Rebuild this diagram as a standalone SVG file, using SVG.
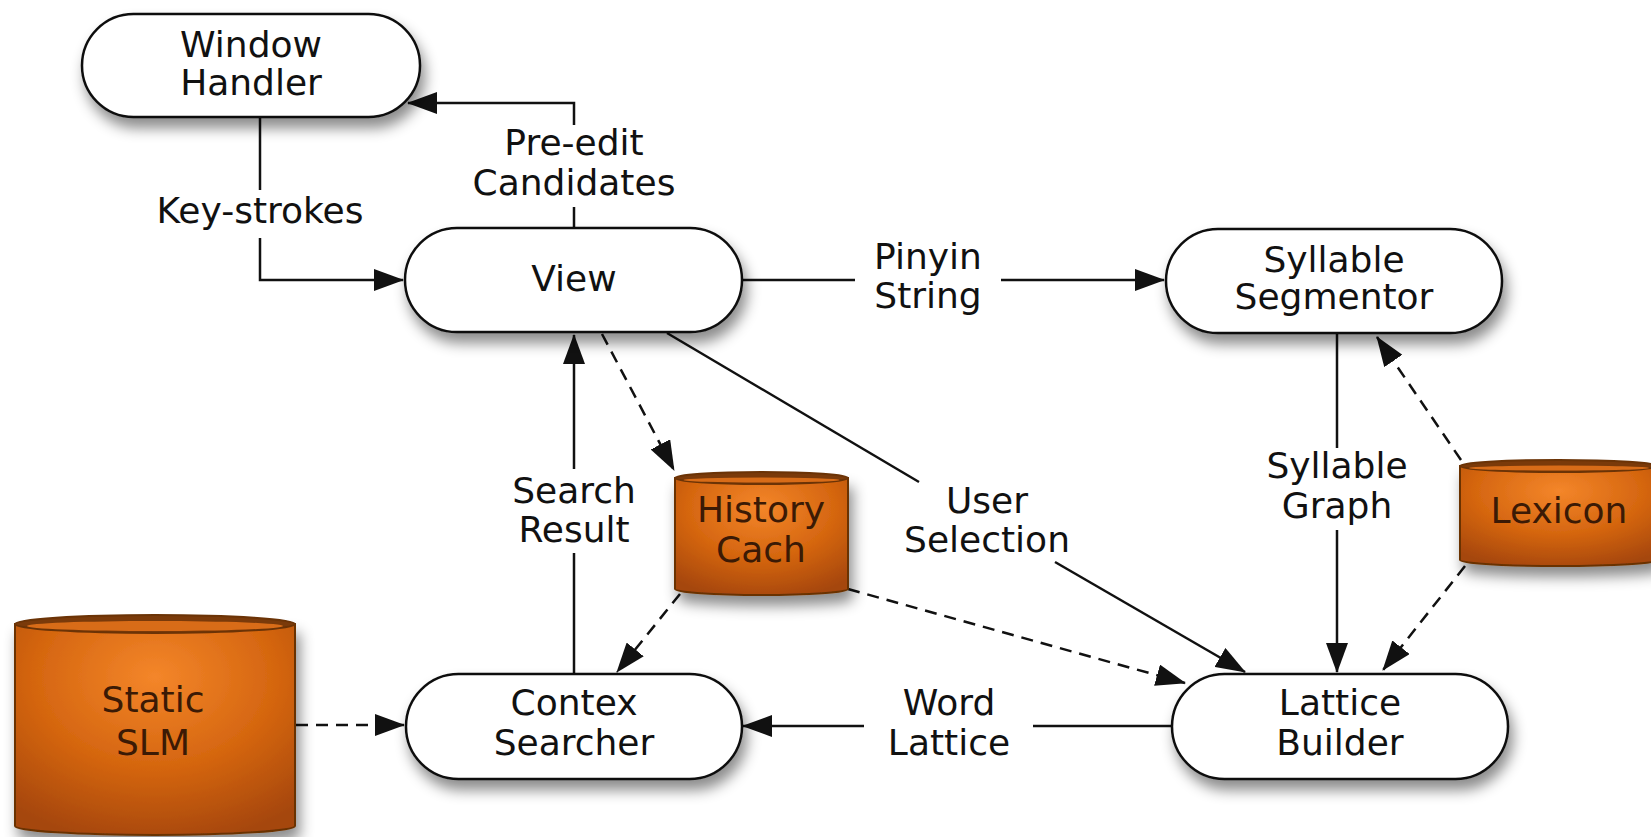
<svg xmlns="http://www.w3.org/2000/svg" width="1651" height="837" viewBox="0 0 1651 837">
  <style>
    .pill { fill: #ffffff; stroke: #111111; stroke-width: 2.5; }
    .lbl { font-family: "DejaVu Sans", "Liberation Sans", sans-serif; font-size: 36px; fill: #111111; text-anchor: middle; }
    .dbl { font-family: "DejaVu Sans", "Liberation Sans", sans-serif; font-size: 36px; fill: #3b1a05; text-anchor: middle; }
    .edge { fill: none; stroke: #111111; stroke-width: 2.5; }
    .dash { stroke-dasharray: 12 8; }
    .body { stroke: #6b3306; stroke-width: 2; }
    .rim { fill: #7a3a0a; stroke: #6b3306; stroke-width: 2; }
    .rimin { fill: #d86c18; }
  </style>
  <defs>
    <filter id="shadow" x="-20%" y="-30%" width="150%" height="180%">
      <feDropShadow dx="4" dy="10" stdDeviation="7" flood-color="#000000" flood-opacity="0.45"/>
    </filter>
    <radialGradient id="orange" cx="0.5" cy="0.25" r="0.8">
      <stop offset="0" stop-color="#f4862a"/>
      <stop offset="0.55" stop-color="#d4650f"/>
      <stop offset="1" stop-color="#a5460a"/>
    </radialGradient>
    <marker id="arrow" viewBox="0 0 30 22" refX="29" refY="11" markerWidth="30" markerHeight="22" markerUnits="userSpaceOnUse" orient="auto">
      <path d="M0,0 L30,11 L0,22 Z" fill="#111111"/>
    </marker>
  </defs>

  <rect width="1651" height="837" fill="#ffffff"/>

  <!-- connectors -->
  <g id="connectors">
    <!-- Key-strokes -->
    <path class="edge" d="M260,118 V190"/>
    <path class="edge" d="M260,238 V280 H403" marker-end="url(#arrow)"/>
    <text class="lbl" x="260" y="223">Key-strokes</text>
    <!-- Pre-edit Candidates -->
    <path class="edge" d="M574,228 V207"/>
    <path class="edge" d="M574,125 V103 H408" marker-end="url(#arrow)"/>
    <text class="lbl" x="574" y="155">Pre-edit</text>
    <text class="lbl" x="574" y="195">Candidates</text>
    <!-- Pinyin String -->
    <path class="edge" d="M742,280 H855"/>
    <path class="edge" d="M1001,280 H1164" marker-end="url(#arrow)"/>
    <text class="lbl" x="928" y="269">Pinyin</text>
    <text class="lbl" x="928" y="308">String</text>
    <!-- Syllable Graph -->
    <path class="edge" d="M1337,333 V448"/>
    <path class="edge" d="M1337,530 V672" marker-end="url(#arrow)"/>
    <text class="lbl" x="1337" y="478">Syllable</text>
    <text class="lbl" x="1337" y="518">Graph</text>
    <!-- Lexicon links -->
    <path class="edge dash" d="M1461,460 L1377,337" marker-end="url(#arrow)"/>
    <path class="edge dash" d="M1465,566 L1383,670" marker-end="url(#arrow)"/>
    <!-- History cache links -->
    <path class="edge dash" d="M848,589 L1185,683" marker-end="url(#arrow)"/>
    <path class="edge dash" d="M602,334 L674,470" marker-end="url(#arrow)"/>
    <path class="edge dash" d="M680,594 L617,672" marker-end="url(#arrow)"/>
    <!-- User Selection -->
    <path class="edge" d="M667,333 L919,482"/>
    <path class="edge" d="M1055,562 L1245,672" marker-end="url(#arrow)"/>
    <text class="lbl" x="987" y="513">User</text>
    <text class="lbl" x="987" y="552">Selection</text>
    <!-- Search Result -->
    <path class="edge" d="M574,674 V553"/>
    <path class="edge" d="M574,469 V335" marker-end="url(#arrow)"/>
    <text class="lbl" x="574" y="503">Search</text>
    <text class="lbl" x="574" y="542">Result</text>
    <!-- Static SLM -->
    <path class="edge dash" d="M296,725 H404" marker-end="url(#arrow)"/>
    <!-- Word Lattice -->
    <path class="edge" d="M1172,726 H1033"/>
    <path class="edge" d="M864,726 H743" marker-end="url(#arrow)"/>
    <text class="lbl" x="949" y="715">Word</text>
    <text class="lbl" x="949" y="755">Lattice</text>
  </g>

  <!-- process nodes -->
  <g id="window-handler">
    <rect class="pill" x="82" y="14" width="338" height="103" rx="51.5" filter="url(#shadow)"/>
    <text class="lbl" x="251" y="57">Window</text>
    <text class="lbl" x="251" y="95">Handler</text>
  </g>
  <g id="view">
    <rect class="pill" x="405" y="228" width="337" height="104" rx="52" filter="url(#shadow)"/>
    <text class="lbl" x="574" y="291">View</text>
  </g>
  <g id="syllable-segmentor">
    <rect class="pill" x="1166" y="229" width="336" height="104" rx="52" filter="url(#shadow)"/>
    <text class="lbl" x="1334" y="272">Syllable</text>
    <text class="lbl" x="1334" y="309">Segmentor</text>
  </g>
  <g id="contex-searcher">
    <rect class="pill" x="406" y="674" width="336" height="105" rx="52.5" filter="url(#shadow)"/>
    <text class="lbl" x="574" y="715">Contex</text>
    <text class="lbl" x="574" y="755">Searcher</text>
  </g>
  <g id="lattice-builder">
    <rect class="pill" x="1172" y="674" width="336" height="105" rx="52.5" filter="url(#shadow)"/>
    <text class="lbl" x="1340" y="715">Lattice</text>
    <text class="lbl" x="1340" y="755">Builder</text>
  </g>

  <!-- data stores -->
  <g id="history-cach">
    <path class="body" fill="url(#orange)" filter="url(#shadow)" d="M675,478 V589 A86.5,6 0 0 0 848,589 V478 Z"/>
    <ellipse class="rim" cx="761.5" cy="478" rx="86.5" ry="6"/>
    <ellipse class="rimin" cx="761.5" cy="480" rx="78" ry="2.5"/>
    <text class="dbl" x="761" y="522">History</text>
    <text class="dbl" x="761" y="562">Cach</text>
  </g>
  <g id="lexicon">
    <path class="body" fill="url(#orange)" filter="url(#shadow)" d="M1460,466 V560 A99,6 0 0 0 1658,560 V466 Z"/>
    <ellipse class="rim" cx="1559" cy="466" rx="99" ry="6"/>
    <ellipse class="rimin" cx="1559" cy="468" rx="90" ry="2.5"/>
    <text class="dbl" x="1559" y="523">Lexicon</text>
  </g>
  <g id="static-slm">
    <path class="body" fill="url(#orange)" filter="url(#shadow)" d="M15,624 V826 A140,9 0 0 0 295,826 V624 Z"/>
    <ellipse class="rim" cx="155" cy="624" rx="140" ry="9"/>
    <ellipse class="rimin" cx="155" cy="626" rx="128" ry="5"/>
    <text class="dbl" x="153" y="712">Static</text>
    <text class="dbl" x="153" y="755">SLM</text>
  </g>
</svg>
